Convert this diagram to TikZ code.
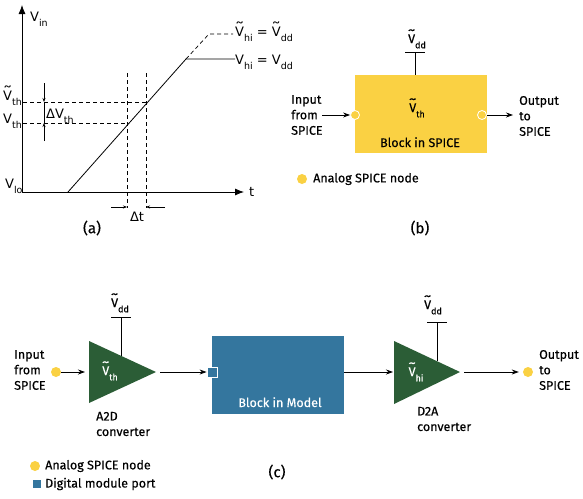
\documentclass[tikz,border=0pt]{standalone}
\usepackage{fontspec}
\usepackage{graphicx}
\setmainfont{Fira Sans}[FakeBold=0.35]
\newfontfamily\fa{DejaVu Sans}
\usetikzlibrary{arrows.meta}
\definecolor{spy}{HTML}{FAD143}
\definecolor{mblue}{HTML}{34769E}
\definecolor{cgreen}{HTML}{2B5D36}
\newcommand\Vt{\leavevmode\setbox0\hbox{V}\rlap{\hbox to\wd0{\hss\raisebox{0.2em}{\scalebox{1.5}[1.15]{\char"02DC}}\hss}}V}
\newcommand\sbs[1]{\raisebox{-0.42em}{\fontsize{9}{9}\selectfont #1}}
\newcommand\asbs[1]{\raisebox{-0.45em}{\fontsize{9.5}{9.5}\selectfont #1}}
\begin{document}
\begin{tikzpicture}[x=1pt,y=-1pt,
  lab/.style={inner sep=0, font=\fontsize{12.5}{15.5}\selectfont, align=left},
  wlab/.style={lab, text=white},
  alab/.style={inner sep=0, font=\fa\fontsize{13}{15}\selectfont},
  caplab/.style={inner sep=0, font=\fontsize{15}{15}\selectfont},
  arr/.style={-{Stealth[length=7pt,width=5pt]}, line width=0.8pt},
  sarr/.style={-{Stealth[length=4pt,width=3pt]}, line width=0.6pt},
  axis/.style={-{Latex[length=9pt,width=7pt]}, line width=0.8pt},
  dsh/.style={dash pattern=on 4pt off 3pt, line width=0.7pt},
  thin line/.style={line width=0.8pt},
  spicenode/.style={circle, fill=spy, minimum size=10pt, inner sep=0},
  openspice/.style={spicenode, draw=white, line width=0.8pt, minimum size=9pt},
  port/.style={fill=mblue, draw=white, line width=0.8pt, minimum size=10pt, inner sep=0},
  blockbox/.style={inner sep=0, minimum width=132pt, minimum height=78pt}
]
\useasboundingbox (0,0) rectangle (583,498);
% ================= (a) =================
\coordinate (O) at (22,192);
\coordinate (Ytop) at (22,5);
\coordinate (Xend) at (244,192);
\draw[axis] (O) -- (Ytop);
\draw[axis] (O) -- (Xend);
\coordinate (R0) at (68,192);
\coordinate (R1) at (186,59);
\coordinate (R2) at (209,34);
\coordinate (Hend) at (235,59);
\coordinate (HDend) at (233,34);
\draw[thin line] (R0) -- (R1) -- (Hend);
\draw[dsh] (R1) -- (R2) -- (HDend);
\coordinate (T1a) at (23,102); \coordinate (T1b) at (146,102);
\coordinate (T2a) at (23,123); \coordinate (T2b) at (127,123);
\draw[dsh] (T1a) -- (T1b);
\draw[dsh] (T2a) -- (T2b);
\coordinate (V1a) at (127,73); \coordinate (V1b) at (127,208);
\coordinate (V2a) at (146,73); \coordinate (V2b) at (146,208);
\draw[dsh] (V1a) -- (V1b);
\draw[dsh] (V2a) -- (V2b);
\coordinate (DVtop) at (44,83); \coordinate (DV1) at (44,102);
\coordinate (DV2) at (44,123); \coordinate (DVbot) at (44,141);
\draw[sarr] (DVtop) -- (DV1);
\draw[sarr] (DVbot) -- (DV2);
\draw[line width=0.6pt] (DV1) -- (DV2);
\coordinate (DTl) at (111,207); \coordinate (DT1) at (127,207);
\coordinate (DTr) at (165,207); \coordinate (DT2) at (146,207);
\draw[sarr] (DTl) -- (DT1);
\draw[sarr] (DTr) -- (DT2);
\node[alab, anchor=base west] (vin) at (30,21) {V\asbs{in}};
\node[alab, anchor=base west] (tl) at (249,196) {t};
\node[alab, anchor=base west] (vhit) at (235,36) {\Vt\asbs{hi} = \Vt\asbs{dd}};
\node[alab, anchor=base west] (vhi) at (235,64) {V\asbs{hi} = V\asbs{dd}};
\node[alab, anchor=base west] (vtht) at (3,100) {\Vt\asbs{th}};
\node[alab, anchor=base west] (vth) at (3,123) {V\asbs{th}};
\node[alab, anchor=base west] (vlo) at (5,188) {V\asbs{lo}};
\node[alab, anchor=base west] (dvth) at (46,118) {ΔV\asbs{th}};
\node[alab, anchor=base] (dt) at (137,221) {Δt};
\node[caplab] (capa) at (92,228) {(a)};
% ================= (b) =================
\node[blockbox, fill=spy] (blk) at (421,114) {};
\node[lab, anchor=base] (bvth) at (417,112) {\Vt\sbs{th}};
\node[lab, anchor=base] (bname) at (420,147) {Block in SPICE};
\coordinate (bvdd) at (415,52);
\draw[thin line] (blk.north -| bvdd) -- (bvdd);
\draw[thin line] ([xshift=-10pt]bvdd) -- ([xshift=10pt]bvdd);
\node[lab, anchor=base] (bvddl) at (417,43) {\Vt\sbs{dd}};
\node[openspice] (bin) at (355,115) {};
\node[openspice] (bout) at (482,115) {};
\node[lab, anchor=west] (bintxt) at (291,115) {Input\\from\\SPICE};
\node[lab, anchor=west] (bouttxt) at (519,116) {Output\\to\\SPICE};
\coordinate (bsrc) at (322,115);
\coordinate (bdst) at (513,115);
\draw[arr] (bsrc) -- (bin.west);
\draw[arr] (blk.east |- bout) -- (bdst);
\node[spicenode] (leg1) at (302,179) {};
\node[lab, anchor=west] (leg1t) at (313,179) {Analog SPICE node};
\node[caplab] (capb) at (420,228) {(b)};
% ================= (c) =================
\node[spicenode] (cin) at (56,372) {};
\node[lab, anchor=west] (cintxt) at (14,370) {Input\\from\\SPICE};
\coordinate (a2dT) at (89,341);
\coordinate (a2dB) at (89,403);
\coordinate (a2dR) at (156,372);
\coordinate (a2dL) at (89,372);
\fill[cgreen] (a2dT) -- (a2dB) -- (a2dR) -- cycle;
\node[wlab, anchor=base] (a2dv) at (110,375) {\Vt\sbs{th}};
\coordinate (a2dvdd) at (121,317);
\draw[thin line] (121,356) -- (a2dvdd);
\draw[thin line] ([xshift=-10pt]a2dvdd) -- ([xshift=10pt]a2dvdd);
\node[lab, anchor=base] (a2dvddl) at (120,307) {\Vt\sbs{dd}};
\node[lab, anchor=west] (a2dname) at (96,424) {A2D\\converter};
\draw[arr, shorten >=4pt] (cin) -- (a2dL);
\node[blockbox, fill=mblue] (mdl) at (278,375) {};
\node[wlab, anchor=base] (mdlname) at (280,407) {Block in Model};
\node[port] (cport) at (212,372) {};
\draw[arr, shorten <=4pt] (a2dR) -- (cport.west);
\coordinate (d2aT) at (394,341);
\coordinate (d2aB) at (394,404);
\coordinate (d2aR) at (460,372);
\coordinate (d2aL) at (394,372);
\fill[cgreen] (d2aT) -- (d2aB) -- (d2aR) -- cycle;
\node[wlab, anchor=base] (d2av) at (416,376) {\Vt\sbs{hi}};
\coordinate (d2avdd) at (437,322);
\draw[thin line] (437,361) -- (d2avdd);
\draw[thin line] ([xshift=-10pt]d2avdd) -- ([xshift=10pt]d2avdd);
\node[lab, anchor=base] (d2avddl) at (433,309) {\Vt\sbs{dd}};
\node[lab, anchor=west] (d2aname) at (417,419) {D2A\\converter};
\draw[arr, shorten >=1pt] (mdl.east |- d2aL) -- (d2aL);
\node[spicenode] (cout) at (528,372) {};
\node[lab, anchor=west] (couttxt) at (539,370) {Output\\to\\SPICE};
\draw[arr, shorten <=4pt, shorten >=4pt] (d2aR) -- (cout);
\node[spicenode] (leg2) at (35,466) {};
\node[lab, anchor=west] (leg2t) at (45,466) {Analog SPICE node};
\node[fill=mblue, minimum size=8pt, inner sep=0] (leg3) at (37,484) {};
\node[lab, anchor=west] (leg3t) at (45,484) {Digital module port};
\node[caplab] (capc) at (277,472) {(c)};
\end{tikzpicture}
\end{document}
